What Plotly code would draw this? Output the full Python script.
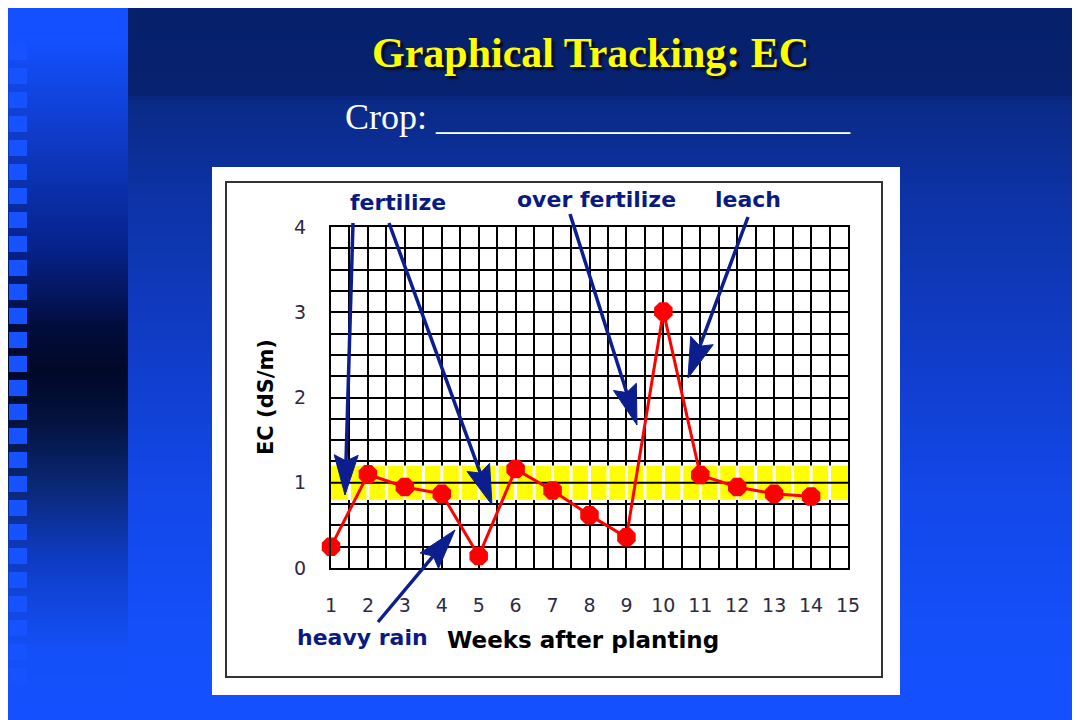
import numpy as np
import plotly.graph_objects as go

# ---------------- data ----------------
weeks = list(range(1, 15))
ec_values = [0.25, 1.10, 0.95, 0.87, 0.14, 1.16, 0.91, 0.62, 0.36, 3.01, 1.09, 0.95, 0.87, 0.84]
x_tick_vals = list(range(1, 16))
y_tick_vals = [0, 1, 2, 3, 4]
target_low = 0.8
target_high = 1.2

title_text = "Graphical Tracking: EC"
crop_text = "Crop: " + "_" * 23
x_title = "Weeks after planting"
y_title = "EC (dS/m)"
note_labels = ["fertilize", "over fertilize", "leach", "heavy rain"]

# the page places the figure 8 px from the window's top-left corner
OFF = 8
W, H = 1080 - OFF, 720 - OFF


def px(x):
    return (x - OFF) / W


def py(y):
    return 1 - (y - OFF) / H


def hex2rgb(h):
    h = h.lstrip('#')
    return np.array([int(h[i:i + 2], 16) for i in (0, 2, 4)], dtype=float)


def interp_color(stops, y):
    ys = [s[0] for s in stops]
    cols = np.array([hex2rgb(s[1]) for s in stops])
    r = np.interp(y, ys, cols[:, 0])
    g = np.interp(y, ys, cols[:, 1])
    b = np.interp(y, ys, cols[:, 2])
    return "rgb(%d,%d,%d)" % (round(r), round(g), round(b))


shapes = []

# ---------------- slide background ----------------
main_stops = [(0, "#06206a"), (96, "#072270"), (99, "#0a2a86"), (200, "#0d33a6"),
              (350, "#103dc8"), (500, "#1348ea"), (650, "#1450fa"), (720, "#1450ff")]
strip_stops = [(0, "#1450ff"), (40, "#1450ff"), (150, "#0e38c0"), (250, "#06228a"),
               (330, "#020c3a"), (370, "#010828"), (420, "#03123e"), (480, "#0a2670"),
               (560, "#0f3cc4"), (650, "#1450f8"), (720, "#1450ff")]
step = 4
for y0 in range(OFF, 720, step):
    y1 = min(y0 + step + 1, 720)
    shapes.append(dict(type="rect", xref="paper", yref="paper", layer="below",
                       x0=px(128), x1=1, y0=py(y1), y1=py(y0),
                       fillcolor=interp_color(main_stops, y0 + step / 2), line=dict(width=0)))
    shapes.append(dict(type="rect", xref="paper", yref="paper", layer="below",
                       x0=0, x1=px(128), y0=py(y1), y1=py(y0),
                       fillcolor=interp_color(strip_stops, y0 + step / 2), line=dict(width=0)))

# decorative squares on the left strip
for i in range(27):
    top = 44 + 24 * i
    shapes.append(dict(type="rect", xref="paper", yref="paper", layer="below",
                       x0=px(9), x1=px(27), y0=py(top + 16), y1=py(top),
                       fillcolor="#1653ff", line=dict(width=0)))

# white picture box and its frame
shapes.append(dict(type="rect", xref="paper", yref="paper", layer="below",
                   x0=px(212), x1=px(900), y0=py(695), y1=py(167),
                   fillcolor="white", line=dict(width=0)))
shapes.append(dict(type="rect", xref="paper", yref="paper", layer="below",
                   x0=px(226), x1=px(882), y0=py(677), y1=py(182),
                   fillcolor="rgba(0,0,0,0)", line=dict(color="#333333", width=2)))

# ---------------- target band ----------------
shapes.append(dict(type="rect", xref="x", yref="y", layer="between",
                   x0=1, x1=15, y0=target_low, y1=target_high,
                   fillcolor="#ffff00", line=dict(width=0)))
for gx in np.arange(1.5, 15, 0.5):
    shapes.append(dict(type="line", xref="x", yref="y", layer="between",
                       x0=gx, x1=gx, y0=target_low, y1=target_high,
                       line=dict(color="white", width=3)))
shapes.append(dict(type="line", xref="x", yref="y", layer="between",
                   x0=1, x1=15, y0=1, y1=1, line=dict(color="black", width=2)))

# ---------------- arrows (pixel geometry) ----------------
navy = "#0c1d8e"
arrows = [((353, 223), (345, 495)),
          ((389, 223), (492, 505)),
          ((570, 214), (637, 425)),
          ((748, 217), (688, 378)),
          ((378, 622), (455, 530))]
head_len, head_half = 40, 12
for (tx, ty), (hx, hy) in arrows:
    d = np.array([hx - tx, hy - ty], dtype=float)
    d /= np.linalg.norm(d)
    n = np.array([-d[1], d[0]])
    tip = np.array([hx, hy], dtype=float)
    base = tip - head_len * d
    notch = base + 0.15 * head_len * d
    p1 = base + head_half * n
    p2 = base - head_half * n
    shapes.append(dict(type="line", xref="paper", yref="paper", layer="above",
                       x0=px(tx), y0=py(ty), x1=px(notch[0]), y1=py(notch[1]),
                       line=dict(color=navy, width=3.5)))
    path = "M %f %f L %f %f L %f %f L %f %f Z" % (
        px(tip[0]), py(tip[1]), px(p1[0]), py(p1[1]),
        px(notch[0]), py(notch[1]), px(p2[0]), py(p2[1]))
    shapes.append(dict(type="path", xref="paper", yref="paper", layer="above",
                       path=path, fillcolor=navy, line=dict(color=navy, width=1)))

# ---------------- figure ----------------
fig = go.Figure()
fig.add_trace(go.Scatter(
    x=weeks, y=ec_values, mode="lines+markers",
    line=dict(color="#ff0000", width=3),
    marker=dict(symbol="octagon", size=20, color="#ff0000", line=dict(width=0)),
    cliponaxis=False, hoverinfo="x+y", showlegend=False))

tick_font = dict(family="DejaVu Sans", size=19, color="#2e2a44")
grid_common = dict(showgrid=True, gridcolor="black", gridwidth=2, zeroline=False,
                   showline=True, linecolor="black", linewidth=2, mirror=True,
                   ticks="", tickfont=tick_font, fixedrange=True, automargin=False)

fig.update_layout(
    width=W, height=H,
    autosize=False,
    margin=dict(l=0, r=0, t=0, b=0, pad=0, autoexpand=False),
    paper_bgcolor="#06206a",
    plot_bgcolor="white",
    showlegend=False,
    xaxis=dict(domain=[px(331), px(848)], range=[1, 15], tickmode="array",
               tickvals=x_tick_vals, ticklabelstandoff=19,
               minor=dict(dtick=0.5, tick0=1, showgrid=True, gridcolor="black", gridwidth=2),
               **grid_common),
    yaxis=dict(domain=[py(568), py(227)], range=[0, 4], tickmode="array",
               tickvals=y_tick_vals, ticklabelstandoff=19,
               minor=dict(dtick=0.25, tick0=0, showgrid=True, gridcolor="black", gridwidth=2),
               **grid_common),
    shapes=shapes,
)

annotations = []
# title (with drop shadow)
annotations.append(dict(text=title_text, x=px(590), y=py(53), xref="paper", yref="paper",
                        showarrow=False, xanchor="center", yanchor="middle",
                        font=dict(family="Liberation Serif", size=42, color="#ffff00",
                                  weight="bold", shadow="3px 3px 2px #0a0a1a")))
annotations.append(dict(text=crop_text, x=px(343), y=py(117), xref="paper", yref="paper",
                        showarrow=False, xanchor="left", yanchor="middle",
                        font=dict(family="Liberation Serif", size=36, color="white")))
# axis titles
annotations.append(dict(text="<b>%s</b>" % x_title, x=px(583), y=py(640), xref="paper", yref="paper",
                        showarrow=False, xanchor="center", yanchor="middle",
                        font=dict(family="DejaVu Sans", size=23, color="black")))
annotations.append(dict(text="<b>%s</b>" % y_title, x=px(266), y=py(397), xref="paper", yref="paper",
                        showarrow=False, xanchor="center", yanchor="middle", textangle=-90,
                        font=dict(family="DejaVu Sans", size=21, color="black")))
# event notes
note_pos = [(398, 203), (596, 199), (748, 199), (362, 637)]
for label, (nx, ny) in zip(note_labels, note_pos):
    annotations.append(dict(text="<b>%s</b>" % label, x=px(nx), y=py(ny), xref="paper", yref="paper",
                            showarrow=False, xanchor="center", yanchor="middle",
                            font=dict(family="DejaVu Sans", size=22, color="#0a1a84")))
fig.update_layout(annotations=annotations)

fig.write_html("out.html", config={"displayModeBar": False})
